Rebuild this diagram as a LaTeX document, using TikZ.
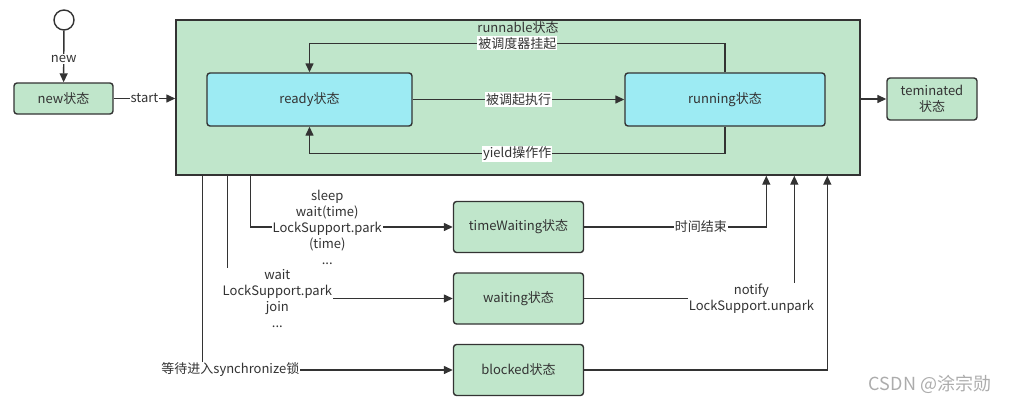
\documentclass[tikz,border=0pt]{standalone}
\usepackage{fontspec}
\setmainfont{Noto Sans CJK SC}
\usetikzlibrary{arrows.meta}

\definecolor{stategreen}{HTML}{C0E6CB}
\definecolor{statecyan}{HTML}{9DEBF3}
\definecolor{edgegray}{HTML}{333333}

\tikzset{
  state/.style={draw=edgegray, line width=1.4pt, rounded corners=3pt, fill=stategreen, align=center},
  inner state/.style={state, fill=statecyan},
  arr/.style={draw=edgegray, line width=1.4pt, -{Triangle[length=9pt,width=8pt]}},
  lbl/.style={fill=white, inner sep=1pt, align=center}
}

\begin{document}
\begin{tikzpicture}[x=1pt, y=-1pt, font=\fontsize{13}{16}\selectfont, text=edgegray]
  \useasboundingbox (0,0) rectangle (1010,405);

  % start and the new state
  \node[draw=edgegray, line width=1.4pt, circle, minimum size=20pt, inner sep=0pt] (init) at (64,20) {};
  \node[state, minimum width=99pt, minimum height=31pt] (new) at (63.5,98.5) {new状态};
  \draw[arr] (init) -- node[lbl, pos=0.55] {new} (new);

  % runnable
  \node[draw=edgegray, line width=1.4pt, fill=stategreen, minimum width=684pt, minimum height=155pt] (runnable) at (518,97.5) {};
  \node (runnablelbl) at (518,28) {runnable状态};
  \node[inner state, minimum width=205pt, minimum height=53pt] (ready) at (309.5,99.5) {ready状态};
  \node[inner state, minimum width=200pt, minimum height=53pt] (running) at (725,99.5) {running状态};
  \draw[arr] (new.east) -- node[lbl] {start} (runnable.west |- new.east);
  \draw[arr] (ready) -- node[lbl] {被调起执行} (running);
  \draw[arr] (running.north) -- ++(0,-29) -| node[lbl, pos=0.25] {被调度器挂起} (ready.north);
  \draw[arr] (running.south) -- ++(0,27) -| node[lbl, pos=0.25] {yield操作作} (ready.south);

  % terminated
  \node[state, minimum width=90pt, minimum height=42pt, inner sep=1pt] (teminated) at (932,99) {teminated\\状态};
  \draw[arr] (runnable.east |- teminated.west) -- (teminated.west);

  % waiting states
  \node[state, minimum width=130pt, minimum height=51pt] (timewait) at (518.5,227) {timeWaiting状态};
  \node[state, minimum width=130pt, minimum height=51pt] (waiting) at (518.5,298.5) {waiting状态};
  \node[state, minimum width=130pt, minimum height=51pt] (blocked) at (518.5,370) {blocked状态};

  \draw[arr] ([xshift=75pt]runnable.south west) |- node[lbl, pos=0.69] {sleep\\wait(time)\\LockSupport.park\\(time)\\...} (timewait.west);
  \draw[arr] ([xshift=52pt]runnable.south west) |- node[lbl, pos=0.611] {wait\\LockSupport.park\\join\\...} (waiting.west);
  \draw[arr] ([xshift=27pt]runnable.south west) |- node[lbl, pos=0.556] {等待进入synchronize锁} (blocked.west);

  \draw[arr] (timewait.east) -| node[lbl, pos=0.32] {时间结束} ([xshift=591pt]runnable.south west);
  \draw[arr] (waiting.east) -| node[lbl, pos=0.398] {notify\\LockSupport.unpark} ([xshift=619pt]runnable.south west);
  \draw[arr] (blocked.east) -| ([xshift=652pt]runnable.south west);

  \node[text=gray!65, font=\fontsize{18}{20}\selectfont] (mark) at (930,384) {CSDN @涂宗勋};
\end{tikzpicture}
\end{document}
